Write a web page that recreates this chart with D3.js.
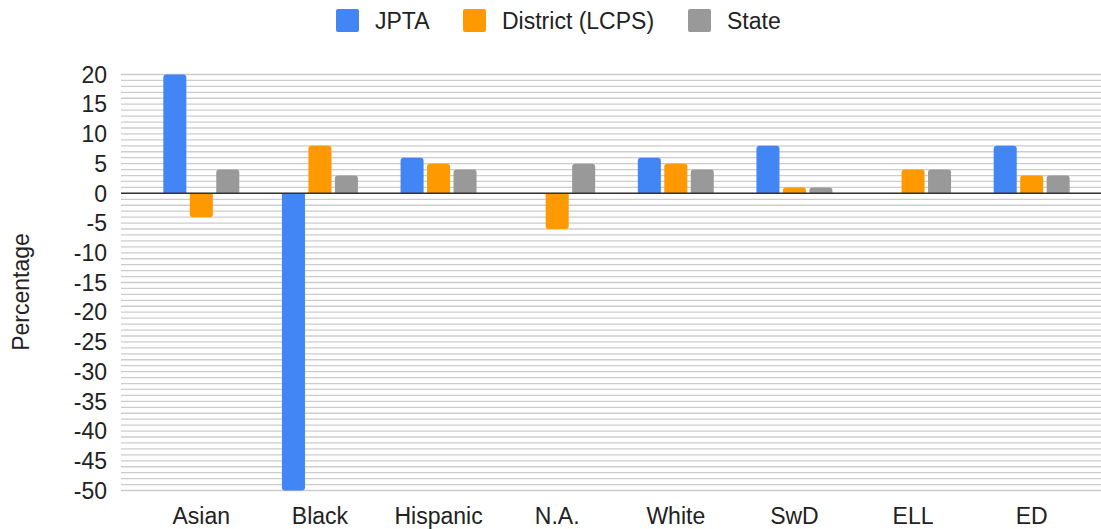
<!DOCTYPE html>
<html>
<head>
<meta charset="utf-8">
<script src="https://cdn.jsdelivr.net/npm/d3@7"></script>
<style>
  body { margin: 0; background: #fff; }
  text { font-family: "Liberation Sans", Arial, sans-serif; fill: #222; }
</style>
</head>
<body>
<svg id="chart" width="1101" height="529"></svg>
<script>
const categories = ["Asian", "Black", "Hispanic", "N.A.", "White", "SwD", "ELL", "ED"];
const seriesNames = ["JPTA", "District (LCPS)", "State"];
const jpta = [20, -50, 6, 0, 6, 8, 0, 8];
const district = [-4, 8, 5, -6, 5, 1, 4, 3];
const state = [4, 3, 4, 5, 4, 1, 4, 3];
const yTicks = [20, 15, 10, 5, 0, -5, -10, -15, -20, -25, -30, -35, -40, -45, -50];
const colors = ["#4285f4", "#ff9900", "#999999"];

const svg = d3.select("#chart");
const plotLeft = 121, plotRight = 1101;
const fontSize = "23px";

const y = d3.scaleLinear().domain([-50, 20]).range([490.5, 74.5]);
const x = d3.scaleBand().domain(categories).range([142, 1091]);
const xs = d3.scaleBand().domain(seriesNames).range([0, 76]).paddingInner(0.13);

// minor gridlines every 1 unit
const grid = svg.append("g");
grid.selectAll("line")
    .data(d3.range(-50, 21))
    .join("line")
    .attr("x1", plotLeft).attr("x2", plotRight)
    .attr("y1", d => y(d)).attr("y2", d => y(d))
    .style("stroke", "#cccccc")
    .style("stroke-width", 1.3);

// rounded-end bar path
function barPath(x0, w, v) {
    const y0 = y(0), y1 = y(v);
    const r = Math.min(3, Math.abs(y1 - y0) / 2);
    const s = v >= 0 ? 1 : -1;
    const p = d3.path();
    p.moveTo(x0, y0);
    p.lineTo(x0, y1 + s * r);
    p.quadraticCurveTo(x0, y1, x0 + r, y1);
    p.lineTo(x0 + w - r, y1);
    p.quadraticCurveTo(x0 + w, y1, x0 + w, y1 + s * r);
    p.lineTo(x0 + w, y0);
    p.closePath();
    return p.toString();
}

const series = [jpta, district, state];
const bars = [];
series.forEach((vals, si) => {
    vals.forEach((v, ci) => {
        if (v !== 0) bars.push({cat: categories[ci], s: seriesNames[si], v: v, c: colors[si]});
    });
});

const groupW = xs.range()[1];
svg.append("g").selectAll("path")
    .data(bars)
    .join("path")
    .attr("d", d => barPath(x(d.cat) + x.bandwidth() / 2 - groupW / 2 + xs(d.s), xs.bandwidth(), d.v))
    .style("fill", d => d.c);

// zero baseline
svg.append("line")
    .attr("x1", plotLeft).attr("x2", plotRight)
    .attr("y1", y(0)).attr("y2", y(0))
    .style("stroke", "#333")
    .style("stroke-width", 1.5);

// y axis labels
svg.append("g").selectAll("text")
    .data(yTicks)
    .join("text")
    .attr("x", 107)
    .attr("y", d => y(d))
    .attr("dy", "0.36em")
    .attr("text-anchor", "end")
    .style("font-size", fontSize)
    .text(d => d);

// x axis labels
svg.append("g").selectAll("text")
    .data(categories)
    .join("text")
    .attr("x", d => x(d) + x.bandwidth() / 2)
    .attr("y", 524)
    .attr("text-anchor", "middle")
    .style("font-size", fontSize)
    .text(d => d);

// y title
svg.append("text")
    .attr("transform", "translate(29,292) rotate(-90)")
    .attr("text-anchor", "middle")
    .style("font-size", fontSize)
    .text("Percentage");

// legend
const legendX = [336, 463, 688];
const legend = svg.append("g");
seriesNames.forEach((name, i) => {
    legend.append("rect")
        .attr("x", legendX[i]).attr("y", 9)
        .attr("width", 23).attr("height", 23)
        .attr("rx", 2)
        .style("fill", colors[i]);
    legend.append("text")
        .attr("x", legendX[i] + 39)
        .attr("y", 20.5)
        .attr("dy", "0.36em")
        .style("font-size", fontSize)
        .text(name);
});
</script>
</body>
</html>
